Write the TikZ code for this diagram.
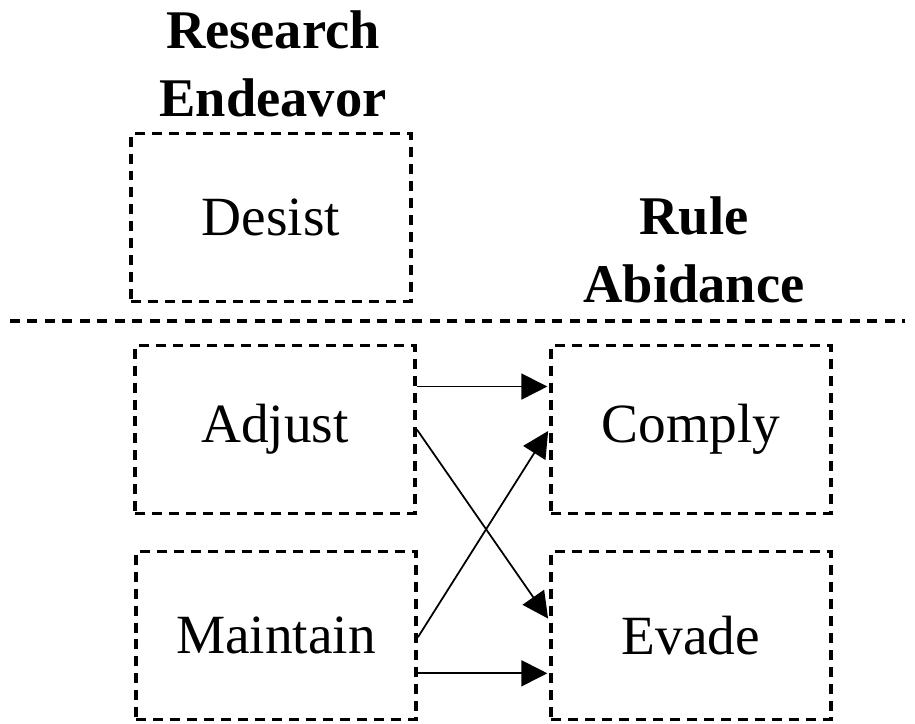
\documentclass[tikz,border=0pt]{standalone}
\usepackage{fontspec}
\setmainfont{Liberation Serif}
\usetikzlibrary{arrows.meta,positioning,calc}

\begin{document}
\begin{tikzpicture}[
    x=0.02cm, y=-0.02cm,
    box/.style={draw, line width=2.2pt, dash pattern=on 0.2cm off 0.14cm, minimum width=5.6cm, minimum height=3.36cm, inner sep=0pt, font=\fontsize{31.5}{40}\selectfont},
    hdr/.style={font=\fontsize{31}{38.5}\selectfont\bfseries, align=center},
    link/.style={line width=1pt, -{Triangle[length=0.52cm, width=0.52cm]}, shorten >=1pt},
]
\useasboundingbox (0,0) rectangle (915,723);

% Column headers
\node[hdr] (research) at (273,64) {Research\\Endeavor};
\node[hdr] (rule) at (694,250) {Rule\\Abidance};

% Boxes
\node[box] (desist) at (271,217.5) {Desist};
\node[box] (adjust) at (275,429.5) {Adjust};
\node[box] (maintain) at (276,635.5) {Maintain};
\node[box] (comply) at (691,429.5) {Comply};
\node[box] (evade) at (691,635.5) {Evade};

% Separator line
\draw[line width=2.2pt, dash pattern=on 0.2cm off 0.15cm] (10,321) -- (905,321);

% Arrows
\draw[link] ($(adjust.north east)!0.25!(adjust.south east)$) -- ($(comply.north west)!0.25!(comply.south west)$);
\draw[link] (adjust.east) -- ($(evade.north west)!0.41!(evade.south west)$);
\draw[link] ($(maintain.north east)!0.51!(maintain.south east)$) -- (comply.west);
\draw[link] ($(maintain.north east)!0.72!(maintain.south east)$) -- ($(evade.north west)!0.72!(evade.south west)$);

\end{tikzpicture}
\end{document}
